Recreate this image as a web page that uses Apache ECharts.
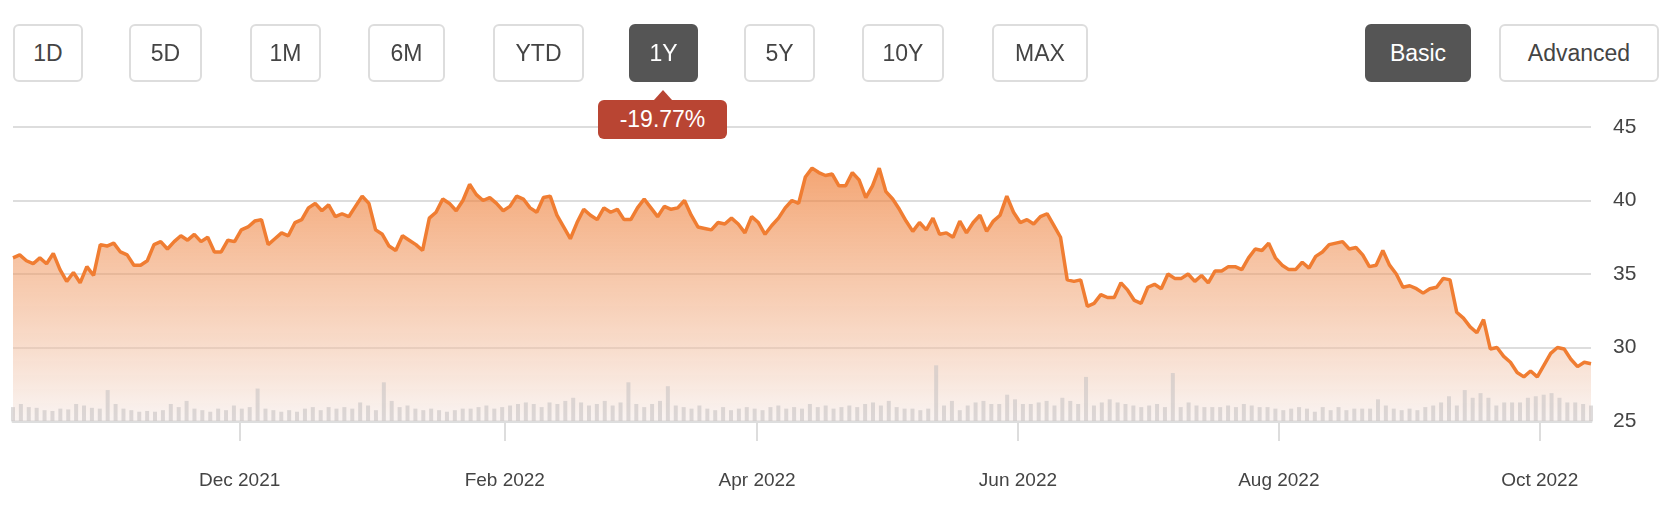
<!DOCTYPE html>
<html>
<head>
<meta charset="utf-8">
<script src="https://cdn.jsdelivr.net/npm/echarts@6/dist/echarts.min.js"></script>
<style>
    body { margin: 0; background: #fff; font-family: "Helvetica Neue", "Liberation Sans", Arial, sans-serif; }
    #wrap { position: relative; width: 1672px; height: 514px; }
    #chart { position: absolute; left: 0; top: 0; width: 1672px; height: 514px; }
    .btn {
        position: absolute; top: 24px; height: 58px; box-sizing: border-box;
        border: 2px solid #ddd; border-radius: 6px; background: #fff; color: #444;
        font-size: 23px; display: flex; align-items: center; justify-content: center; z-index: 2;
    }
    .btn.on { background: #555; border-color: #555; color: #fff; }
    #badge {
        position: absolute; left: 598px; top: 100px; width: 129px; height: 39px; border-radius: 6px;
        background: #b94533; color: #fff; font-size: 23px; display: flex; align-items: center; justify-content: center; z-index: 2;
    }
    #badge:before {
        content: ""; position: absolute; left: 56px; top: -10px;
        border-left: 9px solid transparent; border-right: 9px solid transparent; border-bottom: 10px solid #b94533;
    }
</style>
</head>
<body>
<div id="wrap">
    <div id="chart"></div>
    <div id="buttons"></div>
    <div id="badge">-19.77%</div>
</div>
<script>
    // 按钮
    const buttons = [
        ['1D', 13, 70], ['5D', 129, 73], ['1M', 250, 71], ['6M', 368, 77], ['YTD', 493, 91],
        ['1Y', 629, 69, true], ['5Y', 744, 71], ['10Y', 862, 82], ['MAX', 992, 96],
        ['Basic', 1365, 106, true], ['Advanced', 1499, 160]
    ];
    buttons.forEach(function (b) {
        const d = document.createElement('div');
        d.className = 'btn' + (b[3] ? ' on' : '');
        d.style.left = b[1] + 'px';
        d.style.width = b[2] + 'px';
        d.textContent = b[0];
        document.getElementById('buttons').appendChild(d);
    });

    // 价格 (约每个交易日)
    const prices = [
        36.1, 36.3, 35.9, 35.7, 36.1, 35.7, 36.4, 35.3, 34.5, 35.1, 34.4, 35.5, 34.9, 37.0, 36.9, 37.1, 36.5, 36.3,
        35.6, 35.6, 35.9, 37.0, 37.2, 36.7, 37.2, 37.6, 37.3, 37.7, 37.2, 37.5, 36.5, 36.5, 37.3, 37.2, 38.0, 38.2,
        38.6, 38.7, 37.0, 37.4, 37.8, 37.6, 38.5, 38.7, 39.5, 39.8, 39.3, 39.7, 38.9, 39.1, 38.9, 39.6, 40.3, 39.8,
        38.0, 37.7, 36.9, 36.6, 37.6, 37.3, 37.0, 36.6, 38.8, 39.2, 40.1, 39.8, 39.3, 40.0, 41.1, 40.4, 40.0, 40.2,
        39.8, 39.3, 39.6, 40.3, 40.1, 39.5, 39.2, 40.2, 40.3, 39.0, 38.2, 37.4, 38.5, 39.4, 39.0, 38.7, 39.5, 39.2,
        39.4, 38.7, 38.7, 39.5, 40.1, 39.5, 38.9, 39.6, 39.4, 39.5, 40.0, 39.0, 38.2, 38.1, 38.0, 38.5, 38.4, 38.8,
        38.4, 37.8, 38.9, 38.5, 37.7, 38.3, 38.8, 39.5, 40.0, 39.8, 41.6, 42.2, 41.9, 41.7, 41.8, 41.0, 41.0, 41.9,
        41.4, 40.2, 41.0, 42.2, 40.6, 40.1, 39.4, 38.6, 37.9, 38.5, 38.0, 38.8, 37.7, 37.8, 37.5, 38.6, 37.8, 38.5,
        39.0, 37.9, 38.6, 39.0, 40.3, 39.2, 38.5, 38.7, 38.4, 38.9, 39.1, 38.3, 37.5, 34.6, 34.5, 34.6, 32.8, 33.0,
        33.6, 33.4, 33.4, 34.4, 33.9, 33.2, 33.0, 34.1, 34.3, 34.0, 35.0, 34.7, 34.7, 35.0, 34.5, 34.9, 34.4, 35.2,
        35.2, 35.5, 35.5, 35.3, 36.1, 36.7, 36.6, 37.1, 36.1, 35.6, 35.3, 35.3, 35.8, 35.4, 36.2, 36.5, 37.0, 37.1,
        37.2, 36.7, 36.8, 36.3, 35.5, 35.6, 36.6, 35.6, 35.0, 34.1, 34.2, 34.0, 33.7, 34.0, 34.1, 34.7, 34.6, 32.4,
        32.0, 31.4, 31.0, 31.9, 29.9, 30.0, 29.4, 29.0, 28.3, 28.0, 28.4, 28.0, 28.8, 29.6, 30.0, 29.9, 29.2, 28.7,
        29.0, 28.9
    ];

    // 成交量 (相对值)
    const volumes = [
        18, 22, 18, 17, 14, 13, 16, 15, 22, 20, 17, 16, 40, 22, 16, 14, 12, 13, 12, 14, 22, 18, 26, 16, 14, 12, 16, 14,
        20, 16, 18, 42, 16, 14, 12, 14, 12, 16, 18, 14, 18, 16, 18, 16, 24, 20, 14, 50, 26, 18, 20, 16, 14, 16, 14, 12,
        14, 16, 16, 18, 20, 16, 18, 20, 22, 24, 22, 18, 24, 22, 26, 30, 24, 20, 22, 26, 20, 24, 50, 22, 18, 22, 26, 45,
        20, 18, 16, 20, 16, 14, 18, 14, 16, 18, 16, 14, 18, 20, 16, 18, 16, 22, 18, 20, 16, 18, 20, 18, 22, 24, 20, 26,
        18, 16, 16, 14, 16, 72, 20, 26, 14, 20, 24, 26, 22, 22, 34, 28, 22, 22, 24, 26, 20, 30, 26, 22, 57, 20, 24, 28,
        24, 22, 20, 18, 20, 22, 18, 62, 18, 24, 20, 18, 18, 18, 20, 18, 22, 20, 18, 18, 16, 14, 16, 18, 16, 12, 18,
        14, 18, 14, 16, 16, 16, 28, 20, 16, 14, 16, 14, 18, 20, 24, 32, 20, 40, 30, 36, 30, 20, 24, 24, 24, 30, 32, 34,
        36, 30, 24, 24, 22, 20
    ];

    const yTicks = [25, 30, 35, 40, 45];
    const monthTicks = ['2021-12-01', '2022-02-01', '2022-04-01', '2022-06-01', '2022-08-01', '2022-10-01'];
    const monthNames = ['Dec 2021', 'Feb 2022', 'Apr 2022', 'Jun 2022', 'Aug 2022', 'Oct 2022'];

    // 日期: 在区间内均匀分布
    const start = +new Date('2021-10-09'), end = +new Date('2022-10-13');
    const priceData = prices.map(function (p, i) { return [start + (end - start) * i / (prices.length - 1), p]; });
    const volData = volumes.map(function (v, i) { return [start + (end - start) * i / (volumes.length - 1), v]; });
    const tickVals = monthTicks.map(function (d) { return +new Date(d); });

    let myChart = echarts.init(document.getElementById('chart'));
    myChart.setOption({
        animation: false,
        grid: {left: 13, right: 81, top: 127, bottom: 93},
        xAxis: [{
            type: 'value', min: start, max: end,
            axisLine: {lineStyle: {color: '#ddd', width: 3}},
            axisTick: {show: true, length: 20, lineStyle: {color: '#ddd', width: 2}, customValues: tickVals},
            axisLabel: {customValues: tickVals, color: '#444', fontSize: 19, margin: 50,
                formatter: function (v) { return monthNames[tickVals.indexOf(v)] || ''; }},
            splitLine: {show: false}
        }],
        yAxis: [{
            type: 'value', position: 'right', min: yTicks[0], max: yTicks[yTicks.length - 1], interval: 5,
            axisLine: {show: false}, axisTick: {show: false},
            axisLabel: {color: '#444', fontSize: 21, margin: 22},
            splitLine: {lineStyle: {color: '#ddd', width: 2}}
        }, {
            type: 'value', min: 0, max: 380, show: false, splitLine: {show: false}
        }],
        series: [{
            type: 'bar', yAxisIndex: 1, data: volData, barWidth: 4,
            itemStyle: {color: 'rgba(200,195,195,0.6)'}, z: 3
        }, {
            type: 'line', data: priceData, showSymbol: false, z: 2,
            lineStyle: {color: '#f07d32', width: 3.5},
            areaStyle: {
                color: new echarts.graphic.LinearGradient(0, 0, 0, 1, [
                    {offset: 0, color: 'rgba(238,120,45,0.95)'},
                    {offset: 0.5, color: 'rgba(240,160,110,0.75)'},
                    {offset: 1, color: 'rgba(245,235,232,0.8)'}
                ]),
                origin: 'start'
            }
        }]
    });
</script>
</body>
</html>
